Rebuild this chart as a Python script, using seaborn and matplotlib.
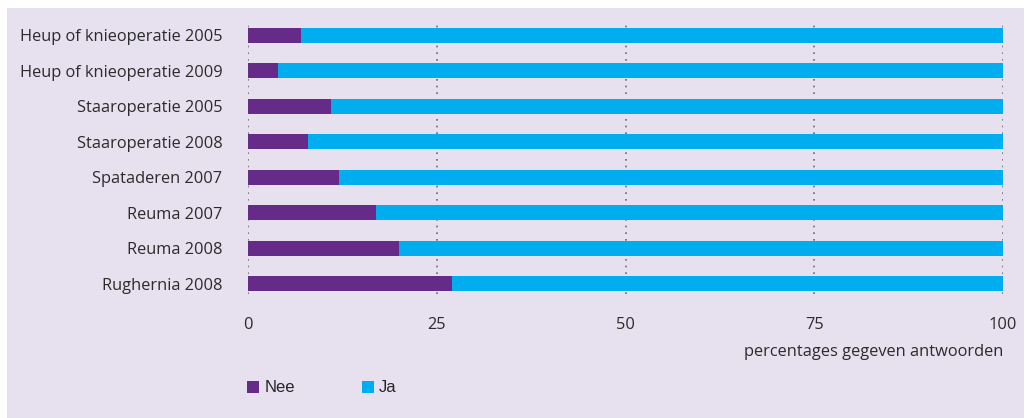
import matplotlib
matplotlib.use("Agg")
import matplotlib.pyplot as plt
from matplotlib.patches import Patch, Rectangle
import seaborn as sns
import pandas as pd

# Survey answers per treatment and year (percentages)
categories = [
    "Heup of knieoperatie 2005",
    "Heup of knieoperatie 2009",
    "Staaroperatie 2005",
    "Staaroperatie 2008",
    "Spataderen 2007",
    "Reuma 2007",
    "Reuma 2008",
    "Rughernia 2008",
]
nee = [7, 4, 11, 8, 12, 17, 20, 27]
ja = [93, 96, 89, 92, 88, 83, 80, 73]
x_ticks = [0, 25, 50, 75, 100]
x_label = "percentages gegeven antwoorden"
legend_labels = ["Nee", "Ja"]

PURPLE = "#662a88"
BLUE = "#00aeef"
PANEL = "#e6e0ef"
TEXT = "#2b2b2b"
FS = 11.8

sns.set_style("white")
plt.rcParams["font.family"] = ["Open Sans", "DejaVu Sans"]

df = pd.DataFrame({"categorie": categories, "Nee": nee, "Ja": ja})
df["totaal"] = df["Nee"] + df["Ja"]

W, H = 1024, 418
fig = plt.figure(figsize=(W / 100, H / 100), dpi=100, facecolor="white")
fig.patches.append(
    Rectangle((7 / W, 0), 1 - 7 / W, 410 / H, transform=fig.transFigure,
              facecolor=PANEL, edgecolor="none", zorder=-10)
)

ax = fig.add_axes([248 / W, 1 - 294 / H, (1003 - 248) / W, (294 - 23.7) / H])
ax.set_facecolor("none")

# Stacked horizontal bars: full width in blue, "Nee" share on top in purple
sns.barplot(data=df, x="totaal", y="categorie", orient="h", color=BLUE,
            saturation=1, width=0.42, linewidth=0, ax=ax, zorder=2)
sns.barplot(data=df, x="Nee", y="categorie", orient="h", color=PURPLE,
            saturation=1, width=0.42, linewidth=0, ax=ax, zorder=3)

ax.set_xlim(0, 100)
ax.set_ylim(7.296, -0.333)
ax.set_xticks(x_ticks)
ax.set_xticklabels([str(t) for t in x_ticks])
ax.grid(axis="x", linestyle=(0, (1, 3)), linewidth=1.2, color="#6a6a6a", zorder=1)
ax.grid(axis="y", visible=False)
ax.set_axisbelow(True)
for s in ax.spines.values():
    s.set_visible(False)

ax.tick_params(axis="y", length=0, pad=18.5, labelsize=FS, labelcolor=TEXT)
ax.tick_params(axis="x", length=0, pad=16.5, labelsize=FS, labelcolor=TEXT)
ax.set_ylabel("")
ax.set_xlabel(x_label, loc="right", fontsize=FS, color=TEXT, labelpad=8)

handles = [Patch(facecolor=PURPLE, edgecolor="none"),
           Patch(facecolor=BLUE, edgecolor="none")]
fig.legend(handles, legend_labels, loc="center left",
           bbox_to_anchor=(247 / W, 1 - 388 / H), ncol=2, frameon=False,
           borderpad=0, borderaxespad=0, handlelength=0.72, handleheight=0.72,
           handletextpad=0.33, columnspacing=4.0,
           prop={"family": "Liberation Sans", "size": 12})

fig.savefig("out.png", dpi=100, facecolor="white")
